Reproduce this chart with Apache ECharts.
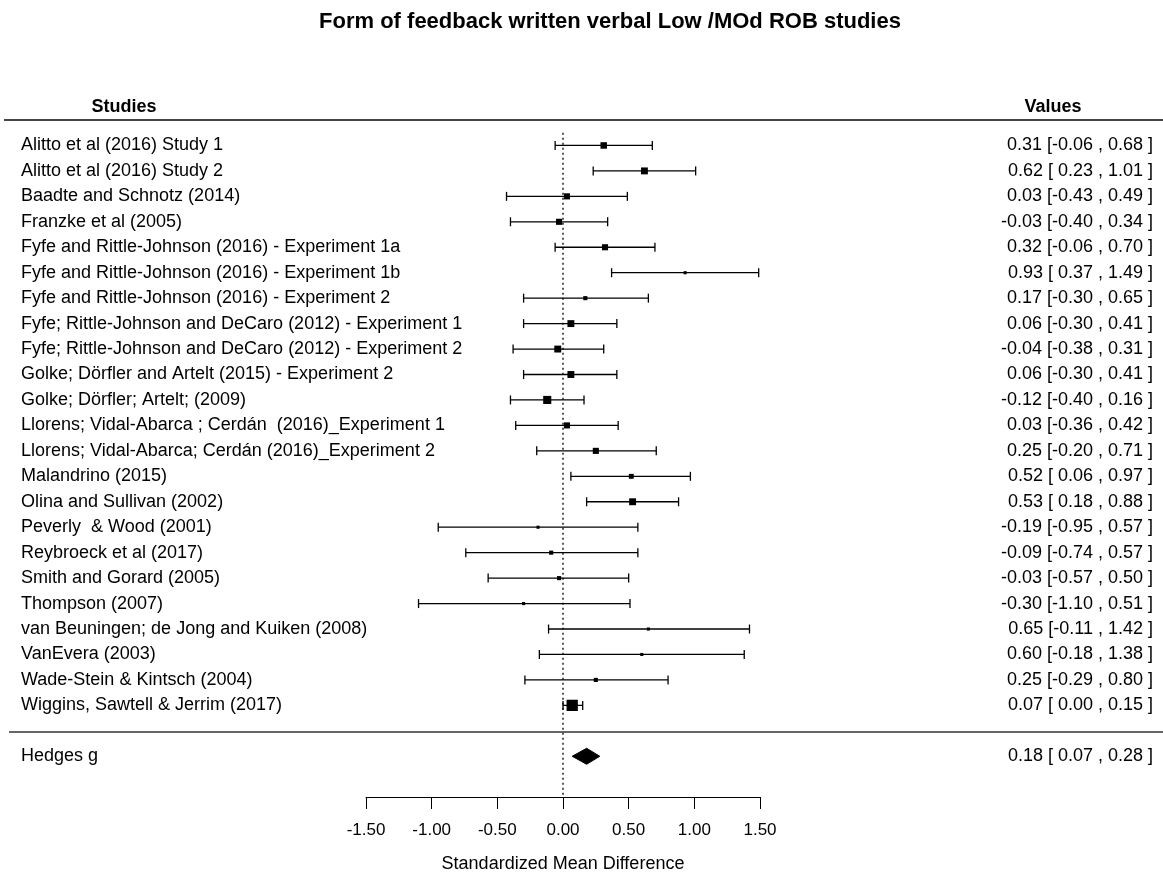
<!DOCTYPE html>
<html>
<head>
<meta charset="utf-8">
<script src="https://cdn.jsdelivr.net/npm/echarts@6/dist/echarts.min.js"></script>
<style>html,body{margin:0;padding:0;background:#fff}#c{width:1163px;height:878px}</style>
</head>
<body>
<div id="c"></div>
<script>
const studies = [
  "Alitto et al (2016) Study 1",
  "Alitto et al (2016) Study 2",
  "Baadte and Schnotz (2014)",
  "Franzke et al (2005)",
  "Fyfe and Rittle-Johnson (2016) - Experiment 1a",
  "Fyfe and Rittle-Johnson (2016) - Experiment 1b",
  "Fyfe and Rittle-Johnson (2016) - Experiment 2",
  "Fyfe; Rittle-Johnson and DeCaro (2012) - Experiment 1",
  "Fyfe; Rittle-Johnson and DeCaro (2012) - Experiment 2",
  "Golke; Dörfler and Artelt (2015) - Experiment 2",
  "Golke; Dörfler; Artelt; (2009)",
  "Llorens; Vidal-Abarca ; Cerdán  (2016)_Experiment 1",
  "Llorens; Vidal-Abarca; Cerdán (2016)_Experiment 2",
  "Malandrino (2015)",
  "Olina and Sullivan (2002)",
  "Peverly  & Wood (2001)",
  "Reybroeck et al (2017)",
  "Smith and Gorard (2005)",
  "Thompson (2007)",
  "van Beuningen; de Jong and Kuiken (2008)",
  "VanEvera (2003)",
  "Wade-Stein & Kintsch (2004)",
  "Wiggins, Sawtell & Jerrim (2017)"
];
const estimates = [0.31,0.62,0.03,-0.03,0.32,0.93,0.17,0.06,-0.04,0.06,-0.12,0.03,0.25,0.52,0.53,-0.19,-0.09,-0.03,-0.30,0.65,0.60,0.25,0.07];
const lower =     [-0.06,0.23,-0.43,-0.40,-0.06,0.37,-0.30,-0.30,-0.38,-0.30,-0.40,-0.36,-0.20,0.06,0.18,-0.95,-0.74,-0.57,-1.10,-0.11,-0.18,-0.29,0.00];
const upper =     [0.68,1.01,0.49,0.34,0.70,1.49,0.65,0.41,0.31,0.41,0.16,0.42,0.71,0.97,0.88,0.57,0.57,0.50,0.51,1.42,1.38,0.80,0.15];
// approximate relative study weights (%)
const weights =   [10,11,9,9,9,1.5,4,11,11,11,14,9,9,6,11,1.5,4,4,1.5,1.5,1.5,4,22];
const summaryLabel = "Hedges g";
const summary = {est: 0.18, lo: 0.07, hi: 0.28};
const xTicks = [-1.5,-1.0,-0.5,0.0,0.5,1.0,1.5];

const SUMMARY_ROW = 25;
const fmtCI = (e,l,h) => e.toFixed(2) + " [" + (l >= 0 ? " " : "") + l.toFixed(2) + " , " + h.toFixed(2) + " ]";

const rows = studies.map((s,i) => [estimates[i], lower[i], upper[i], i+1, weights[i]]);

const chart = echarts.init(document.getElementById('c'), null, {renderer:'canvas'});
const FONT = 'Liberation Sans, Arial, sans-serif';
const FS = 18;

chart.setOption({
  animation: false,
  backgroundColor: '#fff',
  textStyle: {fontFamily: FONT},
  title: [
    {text: 'Form of feedback written verbal Low /MOd ROB studies', left: 605, textAlign: 'center', top: 6,
     textStyle: {fontFamily: FONT, fontWeight: 'bold', fontSize: 22, color: '#000'}},
    {text: 'Studies', left: 119, textAlign: 'center', top: 93, textStyle: {fontFamily: FONT, fontWeight: 'bold', fontSize: 18, color: '#000'}},
    {text: 'Values', left: 1048, textAlign: 'center', top: 93, textStyle: {fontFamily: FONT, fontWeight: 'bold', fontSize: 18, color: '#000'}}
  ],
  grid: {left: 366, right: 403, top: 120, bottom: 78, containLabel: false},
  xAxis: {
    type: 'value', min: -1.5, max: 1.5, interval: 0.5,
    name: 'Standardized Mean Difference', nameLocation: 'middle', nameGap: 58,
    nameTextStyle: {fontFamily: FONT, fontSize: 18, color: '#000'},
    axisLine: {show: true, onZero: false, lineStyle: {color: '#000', width: 1}},
    axisTick: {show: true, length: 12, lineStyle: {color: '#000', width: 1}},
    axisLabel: {fontFamily: FONT, fontSize: 17, color: '#000', margin: 25, formatter: v => v.toFixed(2)},
    splitLine: {show: false}
  },
  yAxis: [
    {
      type: 'value', inverse: true, min: 0, max: 26.6, interval: 1, position: 'left',
      axisLine: {show: false}, axisTick: {show: false}, splitLine: {show: false},
      axisLabel: {
        showMaxLabel: false, align: 'left', margin: 345, fontFamily: FONT, fontSize: FS, color: '#000',
        formatter: v => (Number.isInteger(v) && v >= 1 && v <= studies.length) ? studies[v-1] : (v === SUMMARY_ROW ? summaryLabel : '')
      }
    },
    {
      type: 'value', inverse: true, min: 0, max: 26.6, interval: 1, position: 'right',
      axisLine: {show: false}, axisTick: {show: false}, splitLine: {show: false},
      axisLabel: {
        showMaxLabel: false, align: 'right', margin: 393, fontFamily: FONT, fontSize: FS, color: '#000',
        formatter: v => (Number.isInteger(v) && v >= 1 && v <= studies.length) ? fmtCI(estimates[v-1], lower[v-1], upper[v-1]) : (v === SUMMARY_ROW ? fmtCI(summary.est, summary.lo, summary.hi) : '')
      }
    }
  ],
  series: [
    {
      type: 'line', data: [[0, 0.5], [0, 26.6]], symbol: 'none', silent: true,
      lineStyle: {color: '#000', width: 1.3, type: [2, 3]}, z: 1
    },
    {
      type: 'custom', data: rows, z: 3,
      encode: {x: [0,1,2], y: 3},
      renderItem: function(params, api) {
        const y = api.value(3);
        const pe = api.coord([api.value(0), y]);
        const pl = api.coord([api.value(1), y]);
        const ph = api.coord([api.value(2), y]);
        const s = 2.5 + api.value(4) * 0.4;
        const cap = 4.5;
        const st = {stroke: '#000', lineWidth: 1.3, fill: null};
        return {type: 'group', children: [
          {type: 'line', shape: {x1: pl[0], y1: pl[1], x2: ph[0], y2: ph[1]}, style: st},
          {type: 'line', shape: {x1: pl[0], y1: pl[1]-cap, x2: pl[0], y2: pl[1]+cap}, style: st},
          {type: 'line', shape: {x1: ph[0], y1: ph[1]-cap, x2: ph[0], y2: ph[1]+cap}, style: st},
          {type: 'rect', shape: {x: pe[0]-s/2, y: pe[1]-s/2, width: s, height: s}, style: {fill: '#000'}}
        ]};
      }
    },
    {
      type: 'custom', data: [[summary.est, summary.lo, summary.hi, SUMMARY_ROW]], z: 3,
      encode: {x: [0,1,2], y: 3},
      renderItem: function(params, api) {
        const y = api.value(3);
        const pe = api.coord([api.value(0), y]);
        const pl = api.coord([api.value(1), y]);
        const ph = api.coord([api.value(2), y]);
        const h = 8;
        return {type: 'polygon', shape: {points: [[pl[0], pl[1]], [pe[0], pe[1]-h], [ph[0], ph[1]], [pe[0], pe[1]+h]]},
                style: {fill: '#000', stroke: '#000', lineWidth: 1}};
      }
    }
  ]
});

// horizontal separators (header rule and rule above summary)
const yHeader = chart.convertToPixel({yAxisIndex: 0}, 0);
const ySep = chart.convertToPixel({yAxisIndex: 0}, 24.05);
chart.setOption({
  graphic: [
    {type: 'line', shape: {x1: 4, y1: yHeader, x2: 1163, y2: yHeader}, style: {stroke: '#444', lineWidth: 2}},
    {type: 'line', shape: {x1: 9, y1: ySep, x2: 1163, y2: ySep}, style: {stroke: '#333', lineWidth: 1.5}}
  ]
});
</script>
</body>
</html>
